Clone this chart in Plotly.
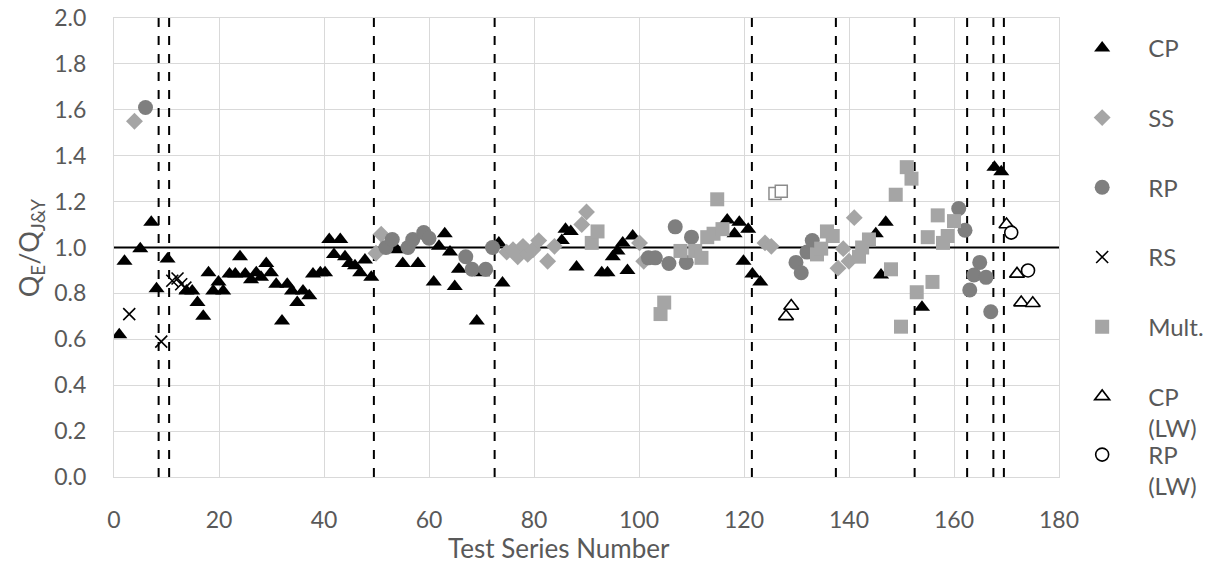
import plotly.graph_objects as go

# ---- data ----
cp_x = [1, 2, 5, 7.1, 8.1, 10.2, 13.8, 14.9, 15.9, 17, 18, 18.9, 19.9, 20.8, 22, 23.1, 24, 25, 26.1, 27.1,
        28, 29, 29.9, 30.9, 32, 33, 33.9, 34.9, 36, 37.2, 37.9, 39.3, 40.2, 41, 41.9, 43.1, 44, 44.8, 45.9,
        46.9, 47.8, 49, 53.9, 55, 57.9, 60.9, 61.9, 63, 64, 64.9, 65.7, 69.1, 70.1, 73.3, 74, 85.3, 86, 87,
        88.1, 92.9, 94, 95, 95.9, 96.9, 97.8, 98.8, 116.8, 118.2, 119.1, 119.9, 120.8, 121.6, 123.1, 145.1,
        146.1, 147, 153.9, 167.7, 169]
cp_y = [0.62, 0.94, 0.995, 1.11, 0.82, 0.95, 0.81, 0.81, 0.76, 0.70, 0.89, 0.81, 0.85, 0.81, 0.885, 0.885,
        0.96, 0.885, 0.86, 0.89, 0.87, 0.93, 0.89, 0.84, 0.68, 0.84, 0.81, 0.76, 0.81, 0.79, 0.885, 0.89,
        0.89, 1.035, 0.97, 1.035, 0.96, 0.93, 0.92, 0.89, 0.945, 0.87, 0.99, 0.93, 0.93, 0.85, 1.005, 1.06,
        0.98, 0.83, 0.905, 0.68, 0.89, 1.02, 0.845, 1.03, 1.08, 1.07, 0.915, 0.89, 0.89, 0.96, 0.985, 1.02,
        0.90, 1.05, 1.12, 1.06, 1.11, 0.94, 1.08, 0.885, 0.85, 1.06, 0.88, 1.11, 0.74, 1.35, 1.33]

ss_x = [3.9, 49.9, 50.9, 74.8, 76, 76.9, 77.9, 78.8, 79.8, 80.9, 82.6, 83.9, 89.1, 90, 100.1, 100.9,
        124, 125.2, 137.9, 138.9, 140, 141]
ss_y = [1.55, 0.975, 1.058, 0.98, 0.99, 0.96, 1.005, 0.97, 0.99, 1.03, 0.94, 1.005, 1.10, 1.155, 1.02,
        0.94, 1.02, 1.005, 0.91, 0.995, 0.94, 1.13]

rp_x = [6, 51.8, 53, 56, 56.9, 59, 60, 67, 68.2, 70.8, 72.1, 101.8, 103.1, 105.7, 106.9, 109, 110,
        129.9, 130.9, 132, 133, 160.9, 162.1, 163, 163.8, 164.9, 166.1, 167]
rp_y = [1.61, 1.00, 1.035, 1.00, 1.035, 1.065, 1.04, 0.96, 0.905, 0.905, 1.00, 0.955, 0.955, 0.93, 1.09,
        0.935, 1.045, 0.935, 0.89, 0.98, 1.03, 1.17, 1.075, 0.815, 0.88, 0.935, 0.87, 0.72]

rs_x = [2.9, 9, 11.1, 12.1, 12.8, 13.6]
rs_y = [0.71, 0.59, 0.855, 0.865, 0.84, 0.825]

mult_x = [91, 92.1, 104.1, 104.8, 107.9, 110.7, 111.9, 113, 114.2, 114.9, 115.9, 133.9, 134.7, 135.8,
          136.9, 141.9, 142.5, 143.8, 148, 148.9, 149.9, 151, 151.9, 152.9, 155, 155.9, 156.9, 157.9,
          158.8, 160]
mult_y = [1.02, 1.07, 0.71, 0.76, 0.985, 0.985, 0.955, 1.045, 1.06, 1.21, 1.08, 0.97, 0.995, 1.07, 1.05,
          0.96, 1.00, 1.035, 0.905, 1.23, 0.655, 1.35, 1.30, 0.805, 1.045, 0.85, 1.14, 1.02, 1.05, 1.115]

mult_open_x = [125.9, 127.1]
mult_open_y = [1.235, 1.245]

cplw_x = [128, 129, 170, 172, 172.8, 175]
cplw_y = [0.70, 0.745, 1.10, 0.885, 0.76, 0.757]

rplw_x = [170.9, 174.1]
rplw_y = [1.065, 0.90]

divider_x = [8.5, 10.5, 49.5, 72.5, 121.5, 137.5, 152.5, 162.5, 167.5, 169.5]
reference_y = 1.0

x_ticks = [0, 20, 40, 60, 80, 100, 120, 140, 160, 180]
y_ticks = [0.0, 0.2, 0.4, 0.6, 0.8, 1.0, 1.2, 1.4, 1.6, 1.8, 2.0]

# ---- figure ----
FONT = "Lato, 'Open Sans', sans-serif"
TXT = "#595959"
GRID = "#d9d9d9"

fig = go.Figure()

def add(x, y, name, symbol, size, color, line_color=None, line_width=0, show=True, legend="legend"):
    fig.add_trace(go.Scatter(
        x=x, y=y, mode="markers", name=name, legendgroup=name.replace("<br>", ""),
        showlegend=show, legend=legend,
        marker=dict(symbol=symbol, size=size, color=color,
                    line=dict(color=line_color or color, width=line_width)),
    ))

add(cp_x, cp_y, "CP", "triangle-up", 14, "#000000")
add(ss_x, ss_y, "SS", "diamond", 13, "#a5a5a5")
add(rp_x, rp_y, "RP", "circle", 15, "#7f7f7f")
add(rs_x, rs_y, "RS", "x-thin", 12, "#000000", "#000000", 1.6)
add(mult_x, mult_y, "Mult.", "square", 14, "#a5a5a5")
add(mult_open_x, mult_open_y, "Mult. open", "square", 12, "#ffffff", "#8c8c8c", 1.5, show=False)
add(cplw_x, cplw_y, "CP<br>(LW)", "triangle-up", 13, "#ffffff", "#000000", 1.6)
add(rplw_x, rplw_y, "RP<br>(LW)", "circle", 13, "#ffffff", "#000000", 1.6, legend="legend2")

for xv in divider_x:
    fig.add_shape(type="line", x0=xv, x1=xv, y0=0, y1=2, xref="x", yref="y",
                  line=dict(color="#000000", width=2, dash="dash"), layer="between")

fig.add_shape(type="line", x0=0, x1=180, y0=reference_y, y1=reference_y, xref="x", yref="y",
              line=dict(color="#000000", width=2), layer="between")

fig.update_xaxes(range=[0, 180], tickvals=x_ticks, showgrid=True, gridcolor=GRID, gridwidth=1,
                 showline=True, linecolor=GRID, linewidth=1, mirror=True, zeroline=False,
                 automargin=False, ticklabeloverflow="allow",
                 tickfont=dict(family=FONT, size=23, color=TXT), ticks="", ticklabelstandoff=22)
fig.update_yaxes(range=[0, 2], tickvals=y_ticks, tickformat=".1f", showgrid=True, gridcolor=GRID,
                 gridwidth=1, showline=True, linecolor=GRID, linewidth=1, mirror=True, zeroline=False,
                 automargin=False, ticklabeloverflow="allow",
                 tickfont=dict(family=FONT, size=23, color=TXT), ticks="", ticklabelstandoff=22)

fig.add_annotation(text="Test Series Number", xref="paper", yref="paper", x=0.471, y=-0.154,
                   showarrow=False, font=dict(family=FONT, size=26, color=TXT),
                   xanchor="center", yanchor="middle")
fig.add_annotation(text="Q<sub>E</sub>/Q<sub>J&amp;Y</sub>", xref="paper", yref="paper",
                   x=-0.088, y=0.5, textangle=-90, showarrow=False,
                   font=dict(family=FONT, size=27, color=TXT), xanchor="center", yanchor="middle")

legend_style = dict(xanchor="left", yanchor="top", traceorder="grouped", valign="top",
                    itemwidth=82, font=dict(family=FONT, size=24, color=TXT),
                    bgcolor="rgba(0,0,0,0)")

fig.update_layout(
    width=1227, height=565,
    margin=dict(l=105.5, r=176, t=10, b=96, autoexpand=False),
    paper_bgcolor="#ffffff", plot_bgcolor="#ffffff",
    showlegend=True,
    legend=dict(x=0.997, y=0.983, tracegroupgap=35.5, maxheight=1.0, **legend_style),
    legend2=dict(x=0.997, y=0.097, **legend_style),
)

fig.write_html("out.html")
